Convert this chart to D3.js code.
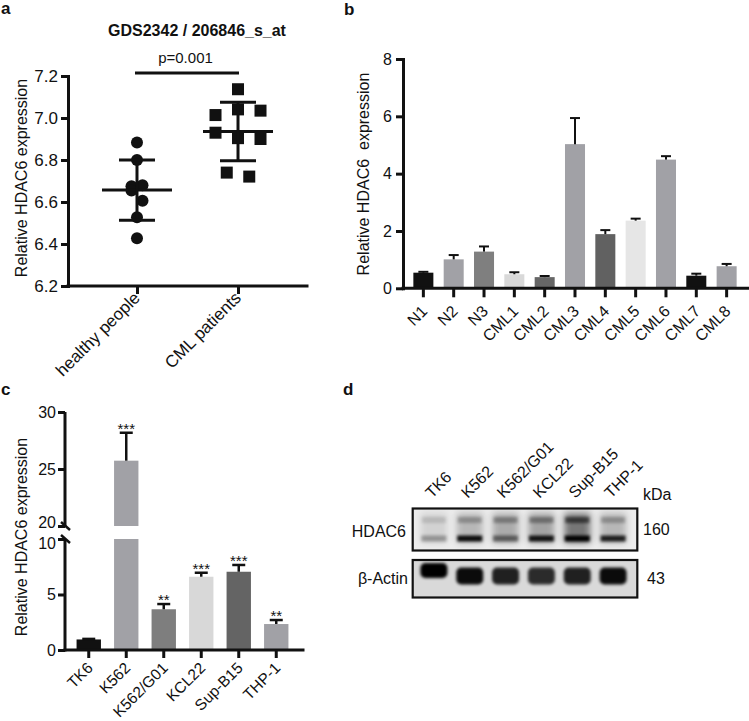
<!DOCTYPE html>
<html><head><meta charset="utf-8">
<script src="https://cdn.jsdelivr.net/npm/d3@7"></script>
<style>
body{margin:0;background:#fff}
svg text{font-family:"Liberation Sans",Arial,Helvetica,sans-serif;fill:#111}
</style>
</head><body>
<svg id="fig" width="749" height="721" xmlns="http://www.w3.org/2000/svg"></svg>
<script>
// ---------------- DATA ----------------
// Panel a
const aGroups = ["healthy people", "CML patients"];
const aHealthy = [6.883, 6.80, 6.675, 6.68, 6.655, 6.606, 6.527, 6.427];
const aCML = [7.137, 7.014, 7.041, 7.035, 6.930, 6.904, 6.900, 6.740, 6.721];
const aTicks = [6.2, 6.4, 6.6, 6.8, 7.0, 7.2];
const aTitle = "GDS2342 / 206846_s_at";
const aPText = "p=0.001";
const aYLabel = "Relative HDAC6 expression";

// Panel b
const bCats = ["N1", "N2", "N3", "CML1", "CML2", "CML3", "CML4", "CML5", "CML6", "CML7", "CML8"];
const bValues = [0.545, 1.01, 1.28, 0.49, 0.39, 5.03, 1.89, 2.36, 4.49, 0.44, 0.77];
const bErrors = [0.03, 0.15, 0.18, 0.07, 0.04, 0.91, 0.14, 0.07, 0.12, 0.07, 0.08];
const bTicks = [0, 2, 4, 6, 8];
const bYLabel = "Relative HDAC6  expression";

// Panel c
const cCats = ["TK6", "K562", "K562/G01", "KCL22", "Sup-B15", "THP-1"];
const cValues = [0.95, 25.73, 3.67, 6.6, 7.05, 2.34];
const cErrors = [0.05, 2.45, 0.47, 0.36, 0.61, 0.36];
const cStars = ["", "***", "**", "***", "***", "**"];
const cTicksLow = [0, 5, 10];
const cTicksHigh = [20, 25, 30];
const cYLabel = "Relative HDAC6 expression";

// Panel d (western blot, relative band intensities 0..1)
const dLanes = ["TK6", "K562", "K562/G01", "KCL22", "Sup-B15", "THP-1"];
const dHdacUpper = [0.22, 0.45, 0.55, 0.62, 1.0, 0.45];
const dHdacLower = [0.30, 0.95, 0.50, 0.90, 1.0, 0.85];
const dActin = [1.0, 0.95, 0.85, 0.8, 0.85, 0.95];
const dRows = ["HDAC6", "β-Actin"];
const dKda = ["160", "43"];

// ---------------- STYLES ----------------
const bColors = ["#111", "#a1a1a6", "#7f7f7f", "#d9d9d9", "#666", "#a1a1a6", "#616161", "#e6e6e6", "#a1a1a6", "#111", "#a1a1a6"];
const cColors = ["#111", "#a1a1a6", "#7e7e7e", "#d8d8d8", "#646464", "#a1a1a6"];
const AX = 3;

const svg = d3.select("#fig");

function styleAxis(g, fs) {
  g.selectAll("path.domain").attr("stroke", "#111").attr("stroke-width", AX).attr("stroke-linecap", "square");
  g.selectAll(".tick line").attr("stroke", "#111").attr("stroke-width", AX);
  g.selectAll(".tick text").attr("font-size", fs).attr("fill", "#111")
    .style("font-family", '"Liberation Sans",Arial,sans-serif');
}
function letter(t, x, y) {
  svg.append("text").attr("x", x).attr("y", y).attr("font-size", 17).attr("font-weight", "bold").text(t);
}

// ================= PANEL A =================
(function () {
  const yA = d3.scaleLinear().domain([6.2, 7.2]).range([286, 76]);
  const xA = d3.scalePoint().domain(aGroups).range([68, 307]).padding(0.683);
  const g = svg.append("g");
  letter("a", 1, 14);
  g.append("text").attr("x", 197).attr("y", 36).attr("text-anchor", "middle")
    .attr("font-size", 16).attr("font-weight", "bold").text(aTitle);

  const gy = g.append("g").attr("transform", "translate(68,0)")
    .call(d3.axisLeft(yA).tickValues(aTicks).tickFormat(d3.format(".1f")).tickSize(7).tickSizeOuter(0).tickPadding(3));
  styleAxis(gy, 17);
  const gx = g.append("g").attr("transform", "translate(0,286)")
    .call(d3.axisBottom(xA).tickSize(8).tickSizeOuter(0).tickFormat(""));
  styleAxis(gx, 17);
  gx.select("path.domain").attr("d", "M68,0H307");

  aGroups.forEach(d => {
    const x = xA(d), y = 286;
    g.append("text").attr("text-anchor", "end").attr("font-size", 17)
      .attr("transform", `translate(${x + 4},${y + 13}) rotate(-45)`).text(d);
  });

  g.append("text").attr("x", (xA(aGroups[0]) + xA(aGroups[1])) / 2 - 2).attr("y", 63)
    .attr("text-anchor", "middle").attr("font-size", 15).text(aPText);
  g.append("line").attr("x1", xA(aGroups[0]) - 2).attr("x2", xA(aGroups[1]) + 1)
    .attr("y1", yA(7.2) - 3).attr("y2", yA(7.2) - 3).attr("stroke", "#111").attr("stroke-width", AX);

  // row-based dot layout (GraphPad style)
  function layout(vals, step, maxPerRow, thr) {
    const rows = [];
    vals.forEach(v => {
      const py = yA(v);
      const r = rows.find(r => Math.abs(r.y0 - py) < thr && r.items.length < maxPerRow);
      if (r) r.items.push(v); else rows.push({ y0: py, items: [v] });
    });
    const out = [];
    rows.forEach(r => r.items.forEach((v, i) => out.push({ v, off: (i - (r.items.length - 1) / 2) * step })));
    return out;
  }
  const sets = [
    { name: aGroups[0], vals: aHealthy, shape: "circle", step: 11, max: 2 },
    { name: aGroups[1], vals: aCML, shape: "square", step: 22.5, max: 3 }
  ];
  sets.forEach(s => {
    const cx = xA(s.name);
    const pts = layout(s.vals, s.step, s.max, 12);
    pts.forEach(p => {
      if (s.shape === "circle") g.append("circle").attr("cx", cx + p.off).attr("cy", yA(p.v)).attr("r", 6).attr("fill", "#111");
      else g.append("rect").attr("x", cx + p.off - 6).attr("y", yA(p.v) - 6).attr("width", 12).attr("height", 12).attr("fill", "#111");
    });
    const m = d3.mean(s.vals), sd = d3.deviation(s.vals);
    const ln = (x1, x2, y1, y2) => g.append("line").attr("x1", x1).attr("x2", x2).attr("y1", y1).attr("y2", y2)
      .attr("stroke", "#111").attr("stroke-width", AX);
    ln(cx - 35, cx + 35, yA(m), yA(m));
    ln(cx, cx, yA(m + sd), yA(m - sd));
    ln(cx - 18, cx + 18, yA(m + sd), yA(m + sd));
    ln(cx - 18, cx + 18, yA(m - sd), yA(m - sd));
  });

  g.append("text").attr("font-size", 16).attr("text-anchor", "middle")
    .attr("transform", "translate(27,178) rotate(-90)").text(aYLabel);
})();

// ================= PANEL B =================
(function () {
  const yB = d3.scaleLinear().domain([0, 8]).range([288.3, 59]);
  const xB = d3.scaleBand().domain(bCats).range([408.2, 741.8]).paddingInner(0.34).paddingOuter(0.17);
  const g = svg.append("g");
  letter("b", 344, 15);

  g.selectAll("rect.bar").data(bCats).join("rect").attr("class", "bar")
    .attr("x", d => xB(d)).attr("width", xB.bandwidth())
    .attr("y", (d, i) => yB(bValues[i])).attr("height", (d, i) => yB(0) - yB(bValues[i]))
    .attr("fill", (d, i) => bColors[i]);
  bCats.forEach((d, i) => {
    const cx = xB(d) + xB.bandwidth() / 2, top = yB(bValues[i] + bErrors[i]);
    g.append("line").attr("x1", cx).attr("x2", cx).attr("y1", yB(bValues[i])).attr("y2", top).attr("stroke", "#111").attr("stroke-width", 2);
    g.append("line").attr("x1", cx - 5).attr("x2", cx + 5).attr("y1", top).attr("y2", top).attr("stroke", "#111").attr("stroke-width", 2);
  });

  const gy = g.append("g").attr("transform", "translate(403,0)")
    .call(d3.axisLeft(yB).tickValues(bTicks).tickSize(7).tickSizeOuter(0).tickPadding(4));
  styleAxis(gy, 16);
  const gx = g.append("g").attr("transform", "translate(0,288.3)")
    .call(d3.axisBottom(xB).tickSize(9).tickSizeOuter(0).tickFormat(""));
  styleAxis(gx, 16);
  gx.select("path.domain").attr("d", "M403,0H748");
  bCats.forEach(d => {
    const x = xB(d) + xB.bandwidth() / 2;
    g.append("text").attr("text-anchor", "end").attr("font-size", 16)
      .attr("transform", `translate(${x + 5},${288.3 + 24}) rotate(-45)`).text(d);
  });
  g.append("text").attr("font-size", 16).attr("text-anchor", "middle").style("white-space", "pre")
    .attr("transform", "translate(369,174) rotate(-90)").text(bYLabel);
})();

// ================= PANEL C =================
(function () {
  const yLo = d3.scaleLinear().domain([0, 10]).range([650, 539]);
  const yHi = d3.scaleLinear().domain([20, 30]).range([526, 412]);
  const xC = d3.scaleBand().domain(cCats).range([70, 295]).paddingInner(0.35).paddingOuter(0.175);
  const g = svg.append("g");
  letter("c", 1, 395);

  cCats.forEach((d, i) => {
    const v = cValues[i], e = cErrors[i], x = xC(d), w = xC.bandwidth(), cx = x + w / 2;
    if (v <= 10) {
      g.append("rect").attr("x", x).attr("width", w).attr("y", yLo(v)).attr("height", yLo(0) - yLo(v)).attr("fill", cColors[i]);
    } else {
      g.append("rect").attr("x", x).attr("width", w).attr("y", yLo(10)).attr("height", yLo(0) - yLo(10)).attr("fill", cColors[i]);
      g.append("rect").attr("x", x).attr("width", w).attr("y", yHi(v)).attr("height", yHi(20) - yHi(v)).attr("fill", cColors[i]);
    }
    const ys = v > 20 ? yHi : yLo;
    const top = ys(v + e);
    g.append("line").attr("x1", cx).attr("x2", cx).attr("y1", ys(v)).attr("y2", top).attr("stroke", "#111").attr("stroke-width", 2.5);
    g.append("line").attr("x1", cx - 6.5).attr("x2", cx + 6.5).attr("y1", top).attr("y2", top).attr("stroke", "#111").attr("stroke-width", 2.5);
    if (cStars[i]) g.append("text").attr("x", cx).attr("y", top + 1).attr("text-anchor", "middle").attr("font-size", 15).text(cStars[i]);
  });

  const gLo = g.append("g").attr("transform", "translate(65,0)")
    .call(d3.axisLeft(yLo).tickValues(cTicksLow).tickSize(7).tickSizeOuter(0).tickPadding(2));
  styleAxis(gLo, 16);
  const gHi = g.append("g").attr("transform", "translate(65,0)")
    .call(d3.axisLeft(yHi).tickValues(cTicksHigh).tickSize(7).tickSizeOuter(0).tickPadding(2));
  styleAxis(gHi, 16);
  // keep the two labels at the break from colliding
  gHi.selectAll(".tick text").filter(d => d === 20).attr("dy", "0.1em");
  gLo.selectAll(".tick text").filter(d => d === 10).attr("dy", "0.62em");
  gLo.selectAll("path.domain").attr("stroke-linecap", "butt").attr("d", `M0,${yLo(0) + 1.5}V${yLo(10)}`);
  gHi.selectAll("path.domain").attr("stroke-linecap", "butt").attr("d", `M0,${yHi(20)}V${yHi(30)}`);
  // break marks
  [yHi(20), yLo(10)].forEach(yy => {
    g.append("line").attr("x1", 61).attr("x2", 70).attr("y1", yy - 4).attr("y2", yy + 4).attr("stroke", "#111").attr("stroke-width", 2.5);
  });

  const gx = g.append("g").attr("transform", "translate(0,650)")
    .call(d3.axisBottom(xC).tickSize(8).tickSizeOuter(0).tickFormat(""));
  styleAxis(gx, 16);
  gx.select("path.domain").attr("d", "M65,0H303");
  cCats.forEach(d => {
    const x = xC(d) + xC.bandwidth() / 2;
    g.append("text").attr("text-anchor", "end").attr("font-size", 15.5)
      .attr("transform", `translate(${x + 5},${650 + 19}) rotate(-45)`).text(d);
  });
  g.append("text").attr("font-size", 16).attr("text-anchor", "middle")
    .attr("transform", "translate(27,537) rotate(-90)").text(cYLabel);
})();

// ================= PANEL D =================
(function () {
  const g = svg.append("g");
  letter("d", 343, 395);
  const xD = d3.scaleBand().domain(dLanes).range([416, 631]);
  const defs = svg.append("defs");
  defs.append("filter").attr("id", "blur2").attr("x", "-50%").attr("y", "-50%").attr("width", "200%").attr("height", "200%")
    .append("feGaussianBlur").attr("stdDeviation", 1.8);
  defs.append("filter").attr("id", "blur4").attr("x", "-50%").attr("y", "-50%").attr("width", "200%").attr("height", "200%")
    .append("feGaussianBlur").attr("stdDeviation", 3.5);
  const boxes = [{ y: 508.5, h: 42 }, { y: 560, h: 37.5 }];
  boxes.forEach((b, k) => {
    defs.append("clipPath").attr("id", "clip" + k).append("rect").attr("x", 412.7).attr("y", b.y).attr("width", 224.6).attr("height", b.h);
  });
  // HDAC6 box
  g.append("rect").attr("x", 412.7).attr("y", boxes[0].y).attr("width", 224.6).attr("height", boxes[0].h).attr("fill", "#ececec");
  const h = g.append("g").attr("clip-path", "url(#clip0)");
  dLanes.forEach((d, i) => {
    const cx = xD(d) + xD.bandwidth() / 2;
    h.append("rect").attr("x", cx - 13).attr("y", 513).attr("width", 26).attr("height", 30)
      .attr("fill", "#000").attr("opacity", dHdacUpper[i] * 0.5).attr("filter", "url(#blur4)");
    h.append("rect").attr("x", cx - 12).attr("y", 517).attr("width", 24).attr("height", 6)
      .attr("fill", "#000").attr("opacity", dHdacUpper[i] * 0.55).attr("filter", "url(#blur2)");
    h.append("rect").attr("x", cx - 12.5).attr("y", 535.5).attr("width", 25).attr("height", 6)
      .attr("fill", "#000").attr("opacity", dHdacLower[i]).attr("filter", "url(#blur2)");
  });
  // Actin box
  g.append("rect").attr("x", 412.7).attr("y", boxes[1].y).attr("width", 224.6).attr("height", boxes[1].h).attr("fill", "#d9d9d9");
  const a = g.append("g").attr("clip-path", "url(#clip1)");
  dLanes.forEach((d, i) => {
    const cx = xD(d) + xD.bandwidth() / 2;
    const y0 = i === 0 ? 563 : 567.5;
    const hh = i === 0 ? 15 : 17;
    a.append("rect").attr("x", cx - 13.5).attr("y", y0).attr("width", 27).attr("height", hh).attr("rx", 5)
      .attr("fill", "#000").attr("opacity", dActin[i]).attr("filter", "url(#blur2)");
  });
  boxes.forEach(b => g.append("rect").attr("x", 412.7).attr("y", b.y).attr("width", 224.6).attr("height", b.h)
    .attr("fill", "none").attr("stroke", "#111").attr("stroke-width", 2.2));

  dLanes.forEach(d => {
    const cx = xD(d) + xD.bandwidth() / 2;
    g.append("text").attr("font-size", 16).attr("transform", `translate(${cx - 2},${499}) rotate(-45)`).text(d);
  });
  g.append("text").attr("x", 406).attr("y", 537).attr("text-anchor", "end").attr("font-size", 16).text(dRows[0]);
  g.append("text").attr("x", 408).attr("y", 584).attr("text-anchor", "end").attr("font-size", 16).text(dRows[1]);
  g.append("text").attr("x", 643).attr("y", 500).attr("font-size", 16).text("kDa");
  g.append("text").attr("x", 643).attr("y", 535).attr("font-size", 16).text(dKda[0]);
  g.append("text").attr("x", 647).attr("y", 584).attr("font-size", 16).text(dKda[1]);
})();
</script>
</body></html>
